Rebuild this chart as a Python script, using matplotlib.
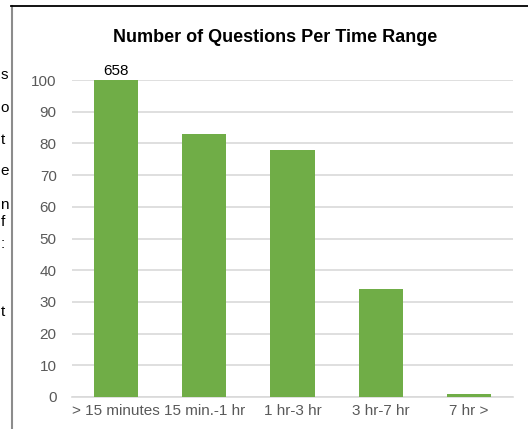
import matplotlib
matplotlib.use("Agg")
import matplotlib.pyplot as plt
from matplotlib.lines import Line2D

plt.rcParams["font.family"] = ["Liberation Sans", "DejaVu Sans"]

categories = ["> 15 minutes", "15 min.-1 hr", "1 hr-3 hr", "3 hr-7 hr", "7 hr >"]
counts = [658, 83, 78, 34, 1]
y_ticks = [0, 10, 20, 30, 40, 50, 60, 70, 80, 90, 100]
title = "Number of Questions Per Time Range"

W, H = 528, 429
fig = plt.figure(figsize=(W / 100, H / 100), dpi=100)
fig.patch.set_facecolor("white")

ax = fig.add_axes([72 / W, 1 - 397 / H, (513 - 72) / W, (397 - 80) / H])
x = range(len(categories))
bars = ax.bar(x, counts, width=0.5, color="#70AD47", zorder=3)
ax.set_ylim(0, 100)
ax.set_xlim(-0.5, len(categories) - 0.5)
ax.set_yticks(y_ticks)
ax.set_xticks(list(x))
ax.set_xticklabels(categories)
ax.grid(axis="y", color="#D9D9D9", linewidth=1.2, zorder=0)
ax.set_axisbelow(True)
for s in ["top", "right", "left"]:
    ax.spines[s].set_visible(False)
ax.spines["bottom"].set_color("#D9D9D9")
ax.spines["bottom"].set_linewidth(1.2)
ax.tick_params(axis="both", length=0, colors="#595959", labelsize=11)
ax.tick_params(axis="y", pad=11)
ax.tick_params(axis="x", pad=5)

# value label for the first (overflowing) bar
ax.annotate(f"{counts[0]}", xy=(0, 100), xytext=(0, 1.5), textcoords="offset points",
            ha="center", va="bottom", fontsize=11, color="black", annotation_clip=False)

fig.text(275 / W, 1 - 37 / H, title, ha="center", va="center",
         fontsize=13, fontweight="bold", color="black")

# chart frame
fig.add_artist(Line2D([11.5 / W, 11.5 / W], [0, 1 - 5.5 / H], color="#8C8C8C", linewidth=1.5))
fig.add_artist(Line2D([11 / W, 1], [1 - 5.5 / H, 1 - 5.5 / H], color="black", linewidth=1.3))

# word endings of the neighbouring text column
side_chars = [("s", 75), ("o", 108), ("t", 140), ("e", 171), ("n", 205),
              ("f", 222), (":", 244), ("t", 312)]
for ch, yy in side_chars:
    fig.text(0.5 / W, 1 - yy / H, ch, ha="left", va="center", fontsize=11, color="black")

fig.savefig("out.png", dpi=100)
